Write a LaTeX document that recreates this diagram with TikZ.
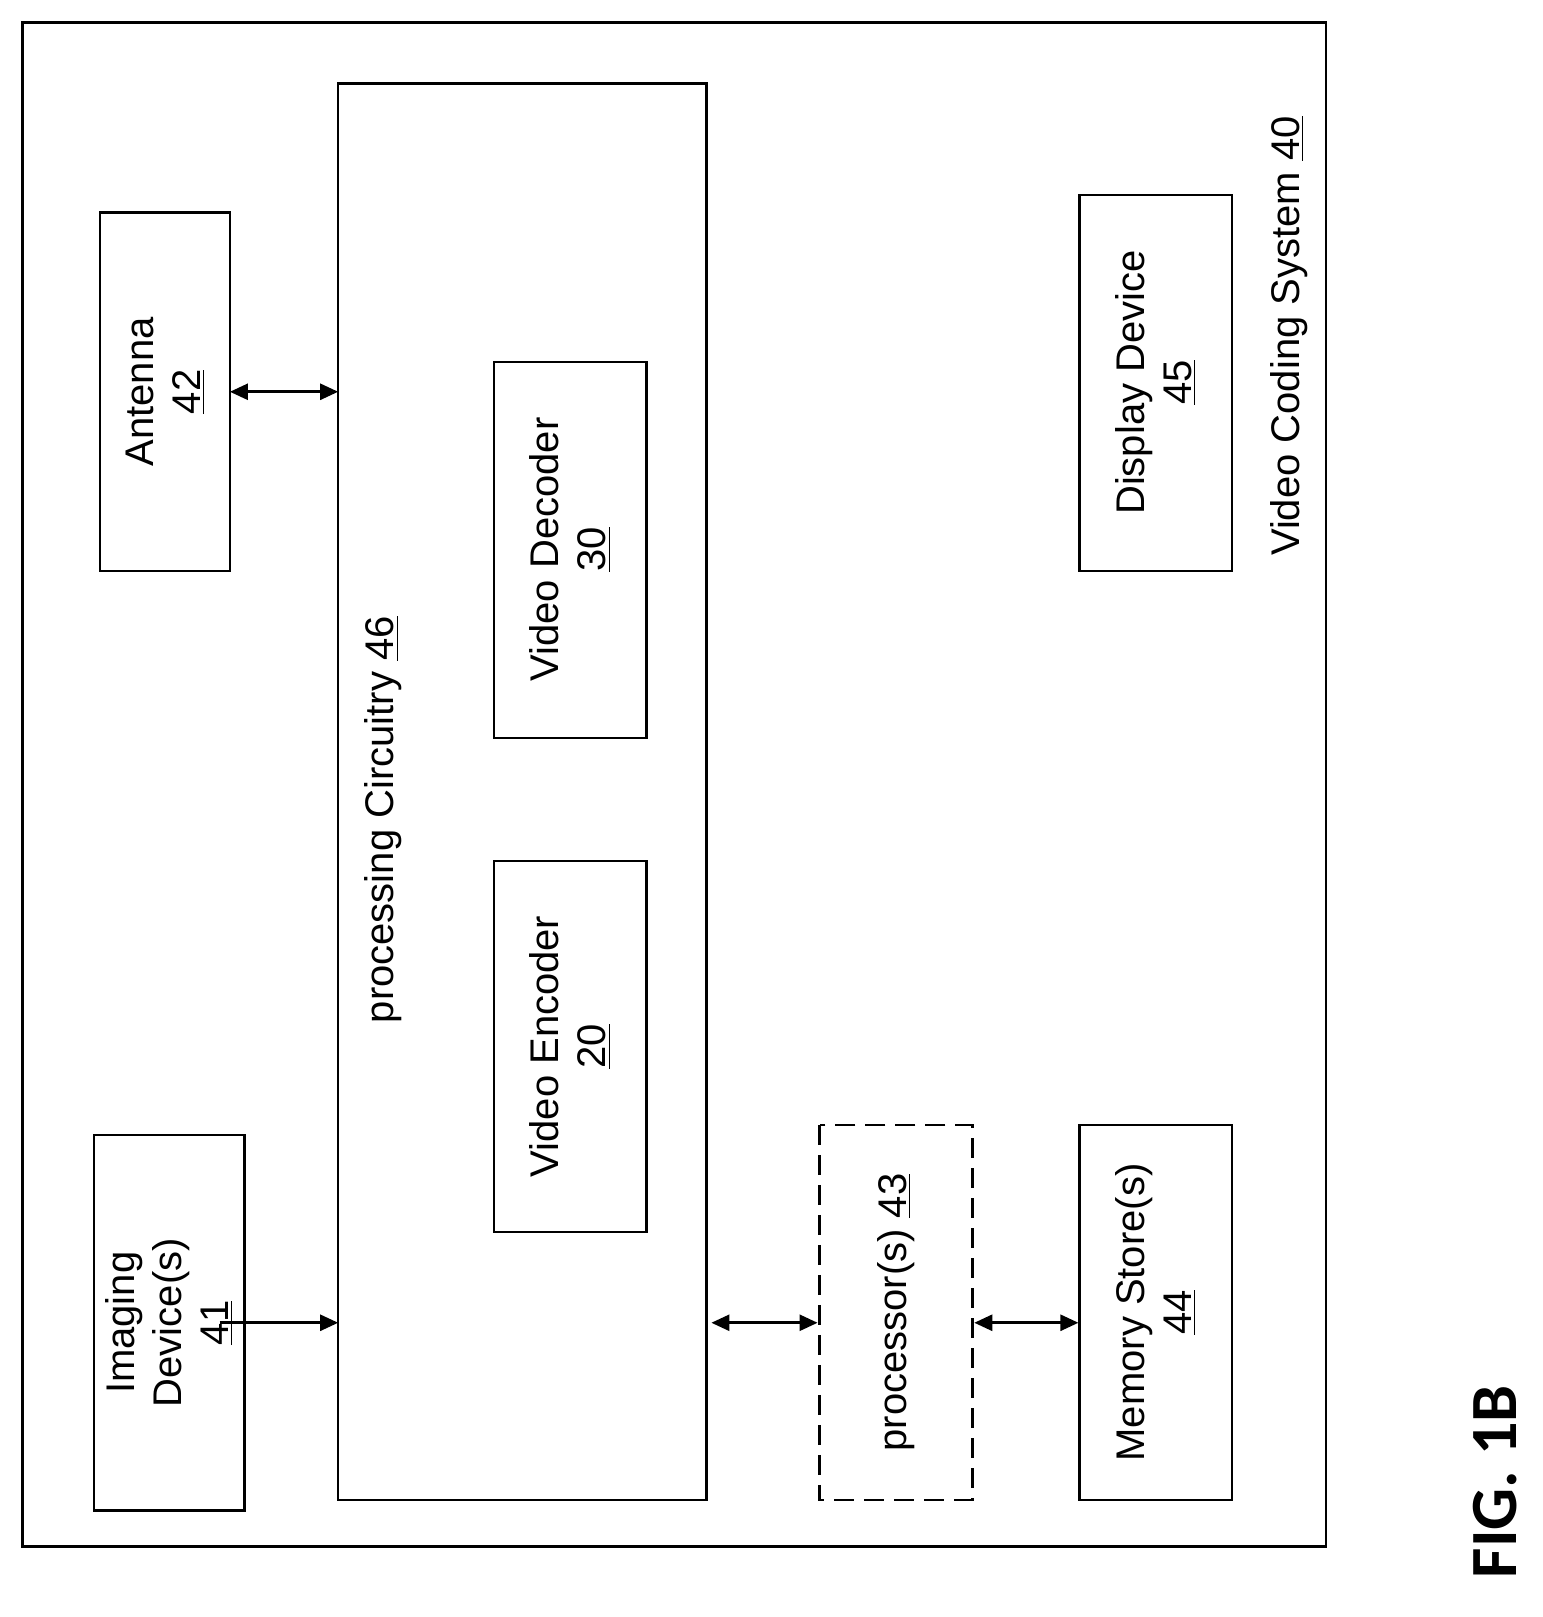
\documentclass[tikz,border=0pt]{standalone}
\usepackage{fontspec}
\setmainfont{Liberation Sans}
\newfontfamily\figfont{Carlito}
\usetikzlibrary{arrows.meta}
\begin{document}
\begin{tikzpicture}[x=0.5155pt,y=-0.5155pt,
  box/.style={draw,line width=1.3pt},
  lbl/.style={rotate=90,align=center,font=\fontsize{20pt}{23.5pt}\selectfont},
  arr/.style={line width=1.3pt,-{Triangle[length=9pt,width=8pt]}},
  darr/.style={line width=1.3pt,{Triangle[length=9pt,width=8pt]}-{Triangle[length=9pt,width=8pt]}}]
\useasboundingbox (0,0) rectangle (1496.6,1568.4);
\draw[box] (22,22) rectangle (1286,1500);
\draw[box] (97,206) rectangle (223,554);
\node[lbl] (ant) at (160,380) {Antenna\\\underline{42}};
\draw[box] (91,1101) rectangle (237,1465);
\node[lbl] (img) at (164,1283) {Imaging\\Device(s)\\\underline{41}};
\draw[box] (328,81) rectangle (685,1455);
\node[lbl] (pc) at (372,795) {processing Circuitry \underline{46}};
\draw[box] (479,351) rectangle (627,716);
\node[lbl] (dec) at (553,533) {Video Decoder\\\underline{30}};
\draw[box] (479,835) rectangle (627,1195);
\node[lbl] (enc) at (553,1015) {Video Encoder\\\underline{20}};
\draw[box,dashed,dash pattern=on 10pt off 5pt] (795,1091) rectangle (943,1455);
\node[lbl] (proc) at (869,1273) {processor(s) \underline{43}};
\draw[box] (1047,1091) rectangle (1195,1455);
\node[lbl] (mem) at (1121,1273) {Memory Store(s)\\\underline{44}};
\draw[box] (1047,189) rectangle (1195,554);
\node[lbl] (disp) at (1121,371) {Display Device\\\underline{45}};
\node[lbl] (sys) at (1250,326) {Video Coding System \underline{40}};
\node[rotate=90,font=\figfont\bfseries\fontsize{33pt}{36pt}\selectfont] (fig) at (1450,1437) {FIG. 1B};
\coordinate (a1) at (223,380); \coordinate (a2) at (328,380);
\draw[darr] (a1) -- (a2);
\coordinate (i1) at (213,1283); \coordinate (i2) at (328,1283);
\draw[arr] (i1) -- (i2);
\coordinate (p1) at (690,1283); \coordinate (p2) at (793,1283);
\draw[darr] (p1) -- (p2);
\coordinate (m1) at (945,1283); \coordinate (m2) at (1046,1283);
\draw[darr] (m1) -- (m2);
\end{tikzpicture}
\end{document}
